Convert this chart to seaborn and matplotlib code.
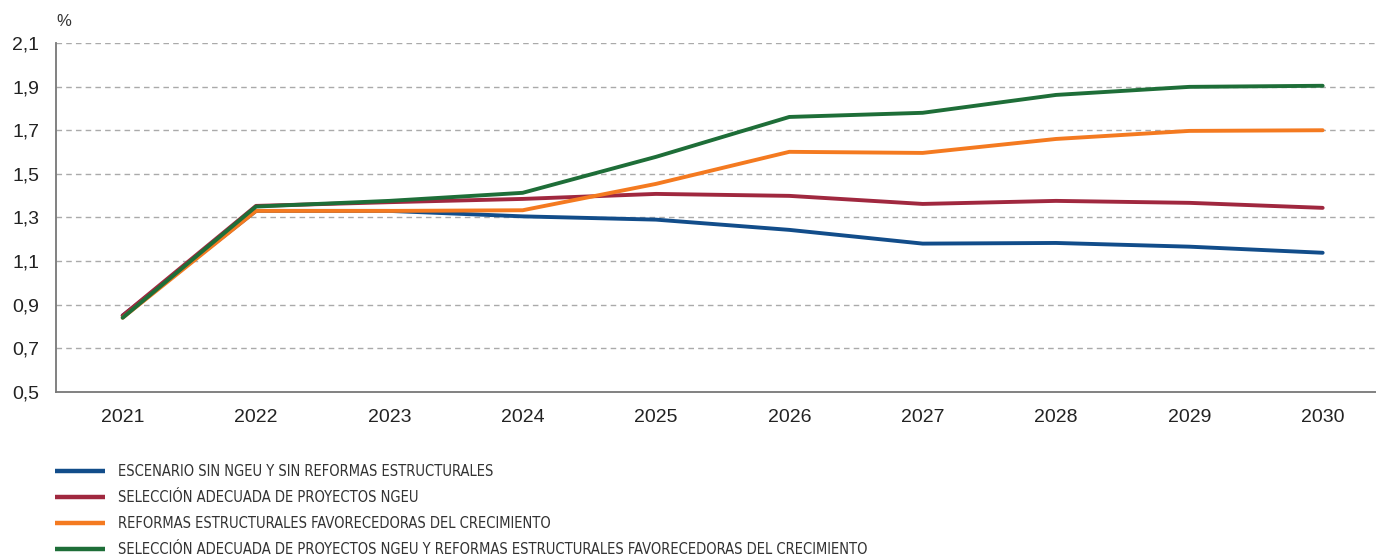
import pandas as pd
import numpy as np
import matplotlib.pyplot as plt
import seaborn as sns
from matplotlib.ticker import FuncFormatter, FixedLocator
from matplotlib.lines import Line2D

years = [2021, 2022, 2023, 2024, 2025, 2026, 2027, 2028, 2029, 2030]
sin_ngeu = [0.85, 1.33, 1.33, 1.305, 1.29, 1.243, 1.18, 1.183, 1.166, 1.138]
proyectos_ngeu = [0.85, 1.353, 1.37, 1.385, 1.408, 1.399, 1.362, 1.376, 1.367, 1.344]
reformas = [0.84, 1.33, 1.33, 1.333, 1.454, 1.601, 1.596, 1.66, 1.697, 1.70]
ngeu_y_reformas = [0.84, 1.35, 1.376, 1.413, 1.578, 1.761, 1.78, 1.862, 1.899, 1.904]

series_names = [
    'ESCENARIO SIN NGEU Y SIN REFORMAS ESTRUCTURALES',
    'SELECCIÓN ADECUADA DE PROYECTOS NGEU',
    'REFORMAS ESTRUCTURALES FAVORECEDORAS DEL CRECIMIENTO',
    'SELECCIÓN ADECUADA DE PROYECTOS NGEU Y REFORMAS ESTRUCTURALES FAVORECEDORAS DEL CRECIMIENTO',
]
colors = ['#124d8a', '#a0283f', '#f47a20', '#1e6e38']

yticks = [0.5, 0.7, 0.9, 1.1, 1.3, 1.5, 1.7, 1.9, 2.1]

df = pd.DataFrame({
    'year': years * 4,
    'value': sin_ngeu + proyectos_ngeu + reformas + ngeu_y_reformas,
    'serie': [s for s in series_names for _ in years],
})

sns.set_style('white')
plt.rcParams['font.family'] = ['Liberation Sans', 'DejaVu Sans']

fig = plt.figure(figsize=(13.76, 5.59), dpi=100)
ax = fig.add_axes([0.0407, 0.299, 0.9593, 0.624])

sns.lineplot(data=df, x='year', y='value', hue='serie', palette=colors,
             hue_order=series_names, linewidth=2.8, ax=ax, legend=False)

ax.set_xlim(2020.5, 2030.4)
ax.set_ylim(0.5, 2.1)
ax.set_yticks(yticks)
ax.yaxis.set_major_formatter(FuncFormatter(lambda v, p: ('%.1f' % v).replace('.', ',')))
ax.set_xticks(years)
ax.set_xticklabels([str(y) for y in years])
ax.xaxis.set_minor_locator(FixedLocator([y + 0.5 for y in years[:-1]]))
ax.tick_params(axis='x', which='major', length=0, pad=12, labelsize=14, colors='#222222')
ax.tick_params(axis='x', which='minor', direction='in', length=6, width=1.2, color='#777777')
ax.tick_params(axis='y', length=0, pad=12, labelsize=14, colors='#222222')
for yv in yticks[1:]:
    ax.axhline(yv, color='#aaaaaa', linestyle=(0, (4, 3)), linewidth=1, zorder=0)
ax.set_xlabel('')
ax.set_ylabel('')
for side in ['top', 'right']:
    ax.spines[side].set_visible(False)
for side in ['left', 'bottom']:
    ax.spines[side].set_color('#777777')
    ax.spines[side].set_linewidth(1.3)

fig.text(0.041, 0.962, '%', fontsize=12, color='#333333', ha='left', va='center')

# legend below the plot
handles = [Line2D([0], [0], color=c, linewidth=3.2, solid_capstyle='butt') for c in colors]
leg = fig.legend(handles, series_names, loc='upper left', bbox_to_anchor=(0.0305, 0.193),
                 frameon=False, handlelength=3.42, handletextpad=0.89, labelspacing=0.75,
                 prop={'family': ['Liberation Sans Narrow', 'DejaVu Sans'], 'stretch': 'condensed', 'size': 10.5})
for t in leg.get_texts():
    t.set_color('#333333')

plt.savefig('out.png', dpi=100)
plt.close()
